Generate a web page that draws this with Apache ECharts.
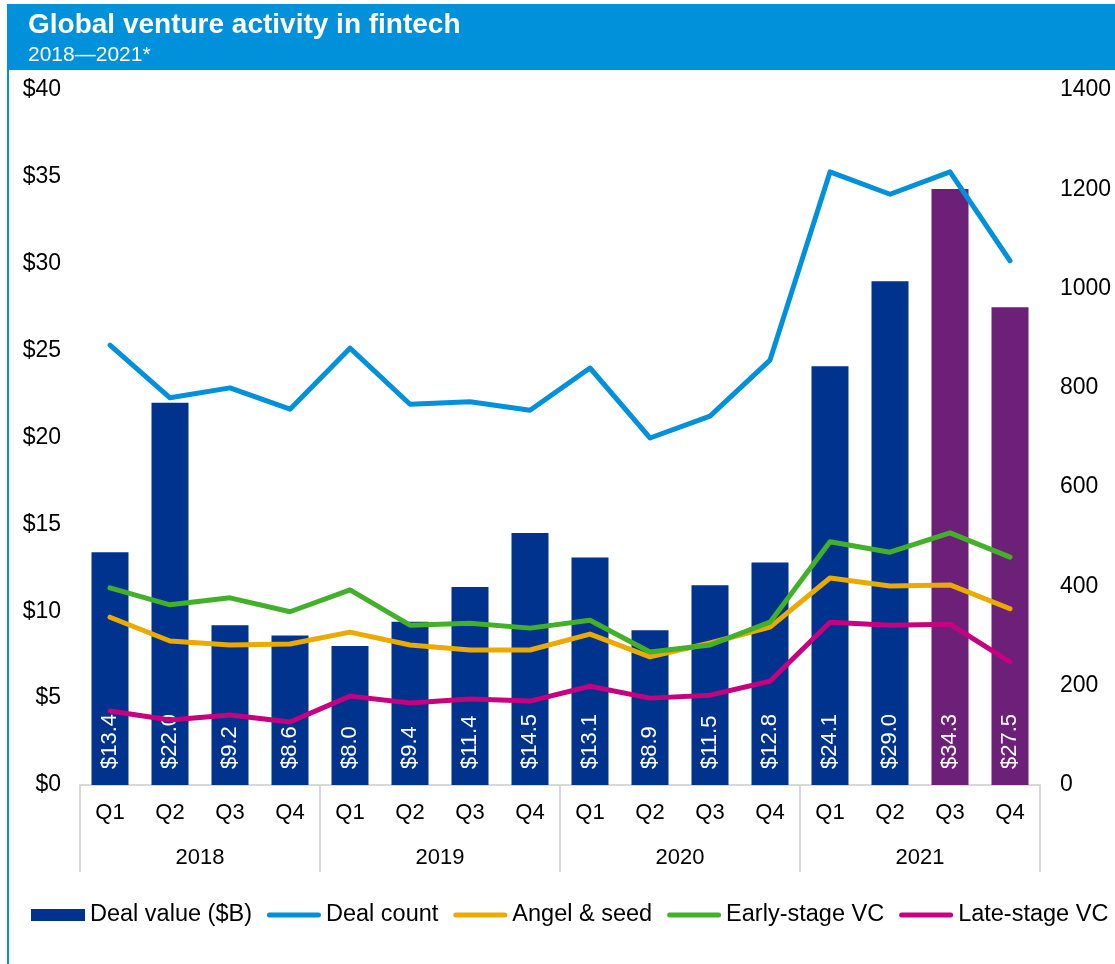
<!DOCTYPE html>
<html>
<head>
<meta charset="utf-8">
<script src="https://cdn.jsdelivr.net/npm/echarts@6/dist/echarts.min.js"></script>
<style>
  html, body { margin: 0; padding: 0; background: #fff; }
  #chart { width: 1115px; height: 964px; }
</style>
</head>
<body>
<div id="chart"></div>
<script>
// quarters and years on the two-level x axis
var quarters = ['Q1', 'Q2', 'Q3', 'Q4', 'Q1', 'Q2', 'Q3', 'Q4', 'Q1', 'Q2', 'Q3', 'Q4', 'Q1', 'Q2', 'Q3', 'Q4']
var years = ['2018', '2019', '2020', '2021']

// deal value in $B (bars, left axis)
var dealValue = [13.4, 22.0, 9.2, 8.6, 8.0, 9.4, 11.4, 14.5, 13.1, 8.9, 11.5, 12.8, 24.1, 29.0, 34.3, 27.5]
// deal counts (lines, right axis)
var dealCount = [886, 780, 800, 757, 880, 767, 772, 755, 840, 699, 743, 856, 1235, 1190, 1235, 1056]
var angelSeed = [338, 290, 282, 284, 308, 282, 272, 272, 304, 258, 286, 318, 417, 401, 403, 355]
var earlyStage = [397, 363, 377, 349, 393, 322, 326, 316, 332, 268, 282, 328, 490, 469, 508, 459]
var lateStage = [149, 131, 141, 127, 179, 165, 173, 169, 199, 175, 181, 209, 328, 322, 324, 248]
// quarters shown in purple (2021 Q3, Q4)
var purpleIdx = [14, 15]

var FONT = 'Liberation Sans, Arial, sans-serif'
var DARK = '#00338D'
var PURPLE = '#6D2077'
// thick line with round ends for the legend
var LINE_ICON = 'path://M2.5,0 L51.5,0 A2.5,2.5 0 0 1 51.5,5 L2.5,5 A2.5,2.5 0 0 1 2.5,0 Z'

var barData = dealValue.map(function (v, i) {
  return purpleIdx.indexOf(i) >= 0 ? { value: v, itemStyle: { color: PURPLE } } : v
})

function lineSeries(name, data, color) {
  return {
    name: name,
    type: 'line',
    yAxisIndex: 1,
    symbol: 'none',
    data: data,
    z: 5,
    lineStyle: { color: color, width: 5, cap: 'round', join: 'round' },
    itemStyle: { color: color }
  }
}

var chart = echarts.init(document.getElementById('chart'))
chart.setOption({
  animation: false,
  textStyle: { fontFamily: FONT },
  graphic: [
    { type: 'rect', shape: { x: 8, y: 4, width: 1107, height: 66 }, style: { fill: '#0091DA' }, z: 0 },
    { type: 'rect', shape: { x: 7, y: 4, width: 2, height: 960 }, style: { fill: '#0091DA' }, z: 0 }
  ],
  title: {
    text: 'Global venture activity in fintech',
    subtext: '2018—2021*',
    left: 23,
    top: 6,
    itemGap: 6,
    textStyle: { color: '#fff', fontSize: 28, fontWeight: 'bold', fontFamily: FONT },
    subtextStyle: { color: '#fff', fontSize: 21, fontFamily: FONT }
  },
  legend: {
    left: 26,
    top: 898,
    itemWidth: 54,
    itemHeight: 12,
    itemGap: 15,
    textStyle: { fontSize: 23.5, color: '#000', fontFamily: FONT },
    data: [
      { name: 'Deal value ($B)', icon: 'rect' },
      { name: 'Deal count', icon: LINE_ICON },
      { name: 'Angel & seed', icon: LINE_ICON },
      { name: 'Early-stage VC', icon: LINE_ICON },
      { name: 'Late-stage VC', icon: LINE_ICON }
    ]
  },
  grid: { left: 80, right: 75, top: 90, bottom: 179 },
  xAxis: [
    {
      type: 'category',
      data: quarters,
      position: 'bottom',
      axisLine: { lineStyle: { color: '#d9d9d9', width: 2 } },
      axisTick: { show: false },
      axisLabel: { color: '#000', fontSize: 22, margin: 17, fontFamily: FONT }
    },
    {
      type: 'category',
      data: years,
      position: 'bottom',
      axisLine: { show: false },
      axisTick: { show: true, length: 87, lineStyle: { color: '#d9d9d9', width: 2 } },
      axisLabel: { color: '#000', fontSize: 22, margin: 62, fontFamily: FONT }
    }
  ],
  yAxis: [
    {
      type: 'value',
      min: 0,
      max: 40,
      interval: 5,
      splitLine: { show: false },
      axisLine: { show: false },
      axisTick: { show: false },
      axisLabel: { color: '#000', fontSize: 23, margin: 19, formatter: '${value}', fontFamily: FONT }
    },
    {
      type: 'value',
      min: 0,
      max: 1400,
      interval: 200,
      splitLine: { show: false },
      axisLine: { show: false },
      axisTick: { show: false },
      axisLabel: { color: '#000', fontSize: 23, margin: 20, formatter: function (v) { return String(v) }, fontFamily: FONT }
    }
  ],
  series: [
    {
      name: 'Deal value ($B)',
      type: 'bar',
      data: barData,
      barWidth: 37,
      itemStyle: { color: DARK },
      label: {
        show: true,
        position: 'insideBottom',
        rotate: 90,
        align: 'left',
        verticalAlign: 'middle',
        distance: 16,
        color: '#fff',
        fontSize: 22,
        fontFamily: FONT,
        formatter: function (p) { return '$' + p.value.toFixed(1) }
      }
    },
    lineSeries('Deal count', dealCount, '#0091DA'),
    lineSeries('Angel & seed', angelSeed, '#EAAA00'),
    lineSeries('Early-stage VC', earlyStage, '#43B02A'),
    lineSeries('Late-stage VC', lateStage, '#C6007E')
  ]
})
</script>
</body>
</html>
